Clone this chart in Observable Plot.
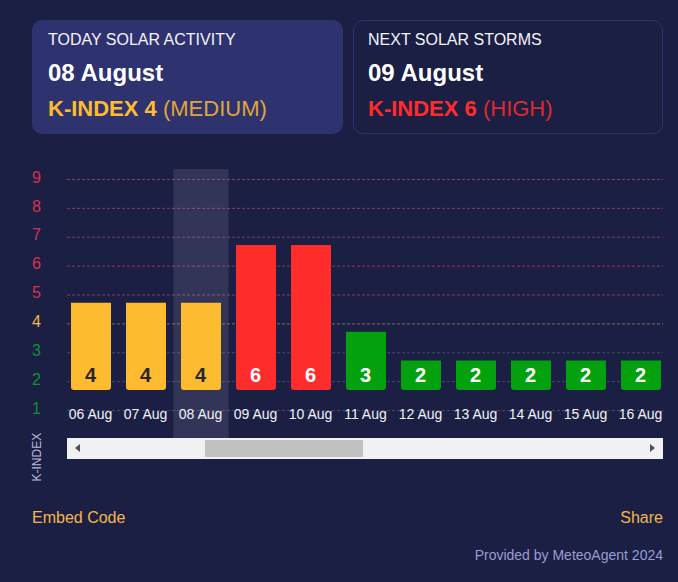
<!DOCTYPE html>
<html><head><meta charset="utf-8">
<script src="https://cdn.jsdelivr.net/npm/d3@7"></script>
<script src="https://cdn.jsdelivr.net/npm/@observablehq/plot@0.6"></script>
<style>
html,body{margin:0;padding:0;background:#1b1f44;width:678px;height:582px;overflow:hidden;font-family:"Liberation Sans",Arial,sans-serif;}
.abs{position:absolute;white-space:nowrap;}
.card{position:absolute;top:20px;height:114px;border-radius:10px;box-sizing:border-box;}
.t1{font-size:16px;line-height:18px;color:#f4f4fa;left:16px;top:11px;position:absolute;white-space:nowrap;}
.t2{font-size:24px;line-height:28px;font-weight:bold;color:#fff;left:16px;top:39px;position:absolute;white-space:nowrap;}
.t3{font-size:22px;line-height:24px;left:16px;top:77px;position:absolute;white-space:nowrap;}
.t3 b{font-weight:bold;}
.t3 span{opacity:.85;}
#chart{position:absolute;left:0;top:160px;}
#chart svg{display:block;}
</style></head><body>
<div class="card" style="left:32px;width:311px;background:#2e3370;">
  <div class="t1" id="c1a"></div><div class="t2" id="c1b"></div>
  <div class="t3" style="color:#fdbb30"><b id="c1c"></b> <span id="c1d"></span></div>
</div>
<div class="card" style="left:353px;width:310px;border:1px solid #2e3370;">
  <div class="t1" id="c2a" style="left:14px;top:10px"></div><div class="t2" id="c2b" style="left:14px;top:38px"></div>
  <div class="t3" style="color:#ff2c2c;left:14px;top:76px"><b id="c2c"></b> <span id="c2d"></span></div>
</div>
<div id="chart"></div>
<div class="abs" style="left:67px;top:438px;width:596px;height:21px;background:#f1f1f3"></div>
<div class="abs" style="left:205px;top:440px;width:158px;height:17px;background:#c1c1c1"></div>
<div class="abs" style="left:75px;top:444px;width:0;height:0;border-style:solid;border-width:4.5px 5px 4.5px 0;border-color:transparent #505050 transparent transparent"></div>
<div class="abs" style="left:650px;top:444px;width:0;height:0;border-style:solid;border-width:4.5px 0 4.5px 5px;border-color:transparent transparent transparent #505050"></div>
<div class="abs" id="embed" style="left:32px;top:509px;font-size:16px;line-height:18px;color:#f5b64c"></div>
<div class="abs" id="share" style="right:15px;top:509px;font-size:16px;line-height:18px;color:#f5b64c"></div>
<div class="abs" id="prov" style="right:15px;top:547px;font-size:14px;line-height:16px;color:#9a9cd2"></div>
<script>
const days = ["06 Aug","07 Aug","08 Aug","09 Aug","10 Aug","11 Aug","12 Aug","13 Aug","14 Aug","15 Aug","16 Aug"];
const kIndex = [4,4,4,6,6,3,2,2,2,2,2];
const levels = [1,2,3,4,5,6,7,8,9];
const today = "08 Aug";
const axisTitle = "K-INDEX";
const cardToday = ["TODAY SOLAR ACTIVITY","08 August","K-INDEX 4","(MEDIUM)"];
const cardNext = ["NEXT SOLAR STORMS","09 August","K-INDEX 6","(HIGH)"];
const footer = ["Embed Code","Share","Provided by MeteoAgent 2024"];

const setText = (id,v)=>document.getElementById(id).textContent=v;
["a","b","c","d"].forEach((s,i)=>{setText("c1"+s,cardToday[i]);setText("c2"+s,cardNext[i]);});
setText("embed",footer[0]);setText("share",footer[1]);setText("prov",footer[2]);

const barFill = k => k>=5 ? "#ff2c2c" : k===4 ? "#fdbb30" : "#03a10d";
const labelFill = k => k===4 ? "#2b2626" : "#fff";
const tickFill = k => k>=5 ? "#d43250" : k===4 ? "#f5b83f" : "#0f9034";
const gridStroke = k => k>=5 ? "#8a3a5c" : k===4 ? "#76705a" : "#444a62";
// the bars sit on an offset baseline against the level axis, as in the source
const barBase = 1.69, barLift = 0.71, labelLevel = 2.2;
const data = days.map((day,i)=>({day,k:kIndex[i]}));

const chart = Plot.plot({
  width:678, height:330,
  marginLeft:63.5, marginRight:9.5, marginTop:0, marginBottom:84,
  style:{background:"transparent",fontFamily:"'Liberation Sans',Arial,sans-serif",overflow:"visible"},
  x:{domain:days,range:[63.5,668.5],paddingInner:15/55,paddingOuter:7.5/55,align:0.5,axis:null,label:null},
  y:{domain:[1,9],range:[250,19],axis:null,label:null},
  marks:[
    Plot.ruleY(levels,{y:d=>d,stroke:gridStroke,strokeDasharray:"3,2",strokeWidth:1,insetLeft:3.5,insetRight:5.5}),
    Plot.rect([today],{x:d=>d,y1:0.03,y2:9.34,fill:"#fff",fillOpacity:0.1,insetLeft:-7.5,insetRight:-7.5}),
    Plot.barY(data,{x:"day",y1:barBase,y2:d=>d.k+barLift,fill:d=>barFill(d.k),rx1y2:3,rx2y2:3}),
    Plot.text(data,{x:"day",y:labelLevel,text:d=>String(d.k),fill:d=>labelFill(d.k),fontSize:20,fontWeight:"bold",dx:-1}),
    Plot.axisY(levels,{anchor:"left",tickSize:0,tickPadding:23,label:null,fontSize:16,fill:tickFill,dy:-2,tickFormat:d=>String(d)}),
    Plot.axisX(days,{anchor:"bottom",tickSize:0,tickPadding:3,label:null,fontSize:14,fill:"#f2f2f8",dx:-1}),
    Plot.text([axisTitle],{frameAnchor:"left",dx:-26.5,dy:24.5,y:-0.61,text:d=>d,rotate:-90,fill:"#b6b9de",fontSize:12})
  ]
});
document.getElementById("chart").appendChild(chart);
</script>
</body></html>
